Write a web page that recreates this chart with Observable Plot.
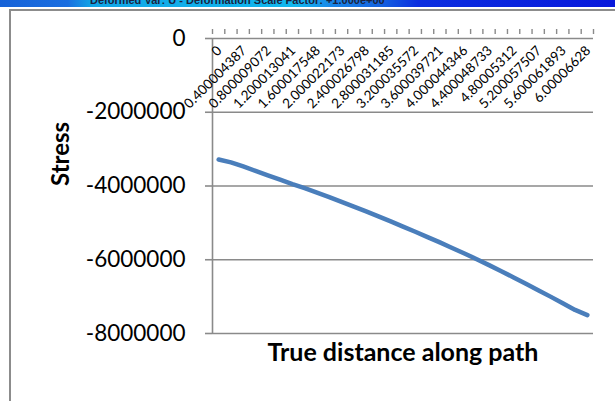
<!DOCTYPE html>
<html>
<head>
<meta charset="utf-8">
<script src="https://cdn.jsdelivr.net/npm/d3@7"></script>
<script src="https://cdn.jsdelivr.net/npm/@observablehq/plot@0.6"></script>
<style>
  html, body { margin: 0; padding: 0; width: 615px; height: 401px; overflow: hidden; background: #fff; }
  #strip { position: absolute; left: 0; top: 0; width: 615px; height: 7px; overflow: hidden;
    background: linear-gradient(90deg, #1662d8 0%, #1a6ee0 11%, #12a6e6 15%, #12b8ee 48%, #1a86e8 54%, #1462e0 62%, #0c2ee0 68%, #0818dc 100%); }
  #strip span { position: absolute; left: 90px; top: -6px; font: bold 11px "Liberation Sans", Arial, sans-serif; color: #1b2440; white-space: nowrap; }
  #frame { position: absolute; left: 9px; top: 9px; width: 800px; height: 600px; border: 2px solid #8c8c8c; box-sizing: border-box; }
  #chart { position: absolute; left: 0; top: 0; }
</style>
</head>
<body>
<div id="strip"><span>Deformed Var: U - Deformation Scale Factor: +1.000e+00</span></div>
<div id="frame"></div>
<div id="chart"></div>
<script>
// Category labels (true distance along path)
const categories = ["0","0.200002193","0.400004387","0.60000673","0.800009072","1.000011057","1.200013041","1.400015295","1.600017548","1.80001986","2.000022173","2.200024486","2.400026798","2.600028992","2.800031185","3.000033379","3.200035572","3.400037647","3.600039721","3.800042034","4.000044346","4.20004654","4.400048733","4.600050927","4.80005312","5.000055314","5.200057507","5.4000597","5.600061893","5.800064087","6.00006628"];
// Stress values
const stress = [-3280000,-3360000,-3470000,-3590000,-3710000,-3830000,-3950000,-4060000,-4180000,-4300000,-4430000,-4560000,-4690000,-4825000,-4960000,-5100000,-5240000,-5385000,-5530000,-5680000,-5830000,-5985000,-6145000,-6310000,-6480000,-6650000,-6825000,-7000000,-7180000,-7360000,-7500000];
// Y axis ticks and labels
const yTicks = [0,-2000000,-4000000,-6000000,-8000000];
const yTickLabels = ["0","-2000000","-4000000","-6000000","-8000000"];
const yTitle = "Stress";
const xTitle = "True distance along path";

const idx = categories.map((_, i) => i);
const labelIdx = idx.filter(i => i % 2 === 0);
const boundaries = d3.range(categories.length + 1).map(k => k - 0.5);
const gray = "#8a8a8a";

const chart = Plot.plot({
  width: 615, height: 401,
  marginLeft: 212, marginRight: 22, marginTop: 38, marginBottom: 68,
  x: {domain: [-0.5, categories.length - 0.5], axis: null},
  y: {domain: [-8000000, 0], axis: null},
  style: {fontFamily: "Lato, sans-serif", fontSize: "22px", background: "transparent", color: "#000", overflow: "visible"},
  marks: [
    Plot.ruleY(yTicks, {stroke: gray, strokeWidth: 1.6}),
    Plot.ruleX([-0.5], {stroke: gray, strokeWidth: 1.6}),
    Plot.axisY(yTicks, {anchor: "left", tickSize: 7, tickPadding: 20, stroke: gray, strokeWidth: 1.6,
      tickFormat: d => yTickLabels[yTicks.indexOf(d)], fontSize: 22.5, label: null}),
    Plot.axisX(boundaries, {anchor: "top", tickSize: 5, dy: -5, stroke: gray, strokeWidth: 1.4,
      tickFormat: () => "", label: null}),
    Plot.text(labelIdx, {x: d => d, frameAnchor: "top", text: d => categories[d], rotate: -45,
      textAnchor: "end", lineAnchor: "bottom", dx: 4, dy: 13, fontSize: 13.5, fill: "#000"}),
    Plot.line(stress, {x: (d, i) => i, y: d => d, stroke: "#4a7ebb", strokeWidth: 4.5,
      strokeLinecap: "round", strokeLinejoin: "round"}),
    Plot.text([yTitle], {frameAnchor: "left", text: d => d, rotate: -90, dx: -151,
      fontWeight: "bold", fontSize: 24, fill: "#000"}),
    Plot.text([xTitle], {frameAnchor: "bottom", text: d => d, dy: 27,
      fontWeight: "bold", fontSize: 25, fill: "#000"})
  ]
});
document.getElementById("chart").appendChild(chart);
</script>
</body>
</html>
